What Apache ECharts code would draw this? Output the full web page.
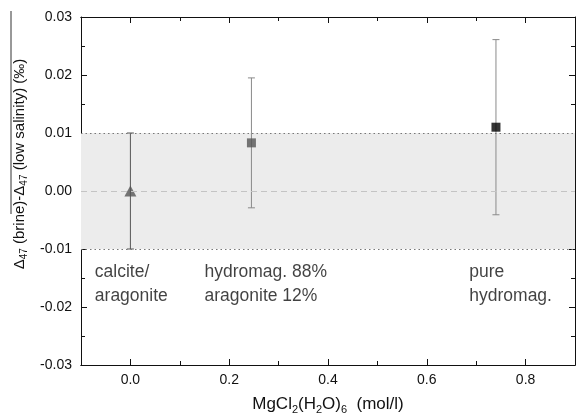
<!DOCTYPE html>
<html><head><meta charset="utf-8">
<script src="https://cdn.jsdelivr.net/npm/echarts@6/dist/echarts.min.js"></script>
<style>html,body{margin:0;padding:0;background:#fff}#c{width:576px;height:415px}</style>
</head><body><div id="c"></div>
<script>
// Data
var xValues = [0.0, 0.245, 0.74];
var yValues = [0.0, 0.0083, 0.011];
var yErrors = [0.010, 0.0112, 0.0151];
var markerSymbols = ['triangle', 'rect', 'rect'];
var markerColors = ['#555555', '#555555', '#000000'];
var errColors = ['#555555', '#8a8a8a', '#8a8a8a'];
var xMajorTicks = [0.0, 0.2, 0.4, 0.6, 0.8];
var xMinorTicks = [-0.1, 0.1, 0.3, 0.5, 0.7, 0.9];
var bandRange = [-0.01, 0.01];
var annotations = [
  {x: -0.072, y: -0.0161, text: 'calcite/\naragonite'},
  {x: 0.150, y: -0.0161, text: 'hydromag. 88%\naragonite 12%'},
  {x: 0.686, y: -0.0161, text: 'pure\nhydromag.'}
];

var FONT = '"Liberation Sans", Arial, sans-serif';
var chart = echarts.init(document.getElementById('c'), null, {renderer: 'canvas'});

var axisLineStyle = {color: '#111', width: 1};
function xAxisDef(pos, ticks, len, showLabel) {
  return {
    type: 'value', position: pos, min: -0.1, max: 0.9,
    axisLine: {show: true, onZero: false, lineStyle: axisLineStyle},
    axisTick: {show: true, inside: true, length: len, customValues: ticks, lineStyle: axisLineStyle},
    axisLabel: {show: showLabel, customValues: ticks, color: '#111', fontSize: 14, fontFamily: FONT, margin: 8,
      formatter: function (v) { return v.toFixed(1); }},
    splitLine: {show: false}
  };
}
var xAxes = [
  xAxisDef('bottom', xMajorTicks, 6, true),
  xAxisDef('bottom', xMinorTicks, 4, false),
  xAxisDef('top', xMajorTicks, 6, false),
  xAxisDef('top', xMinorTicks, 4, false)
];
xAxes[0].name = 'MgCl{s|2}(H{s|2}O){s|6}  (mol/l)';
xAxes[0].nameLocation = 'middle';
xAxes[0].nameGap = 29;
xAxes[0].nameTextStyle = {color: '#111', fontSize: 17, fontFamily: FONT,
  rich: {s: {fontSize: 11, fontFamily: FONT, color: '#111', verticalAlign: 'bottom', padding: [10, 0, 0, 0]}}};

function yAxisDef(pos, showLabel) {
  return {
    type: 'value', position: pos, min: -0.03, max: 0.03, interval: 0.01,
    axisLine: {show: true, onZero: false, lineStyle: axisLineStyle},
    axisTick: {show: true, inside: true, length: 6, lineStyle: axisLineStyle},
    minorTick: {show: true, splitNumber: 2, length: 4, lineStyle: axisLineStyle},
    axisLabel: {show: showLabel, color: '#111', fontSize: 14, fontFamily: FONT, margin: 9,
      formatter: function (v) { return v.toFixed(2); }},
    splitLine: {show: false}
  };
}
var yAxes = [yAxisDef('left', true), yAxisDef('right', false)];
yAxes[0].name = 'Δ{s|47} (brine)-Δ{s|47} (low salinity) (‰)';
yAxes[0].nameLocation = 'middle';
yAxes[0].nameGap = 52;
yAxes[0].nameTextStyle = {color: '#111', fontSize: 15, fontFamily: FONT, padding: [0, 0, 0, 54],
  rich: {s: {fontSize: 10, fontFamily: FONT, color: '#111', verticalAlign: 'bottom', padding: [8, 0, 0, 0]}}};

var errData = xValues.map(function (x, i) { return [x, yValues[i] - yErrors[i], yValues[i] + yErrors[i], i]; });
var ptData = xValues.map(function (x, i) {
  return {value: [x, yValues[i]], symbol: markerSymbols[i], itemStyle: {color: markerColors[i]},
    symbolSize: markerSymbols[i] === 'triangle' ? [12, 11] : 9};
});

chart.setOption({
  animation: false,
  backgroundColor: '#fff',
  grid: {left: 81, right: 1, top: 17, bottom: 50, containLabel: false, outerBoundsMode: 'none'},
  xAxis: xAxes,
  yAxis: yAxes,
  series: [
    {
      type: 'line', data: [], xAxisIndex: 0, yAxisIndex: 0, silent: true,
      markArea: {silent: true, itemStyle: {color: '#ececec'}, data: [[{yAxis: bandRange[0]}, {yAxis: bandRange[1]}]]},
      markLine: {silent: true, symbol: 'none', label: {show: false},
        data: [
          {yAxis: bandRange[0], lineStyle: {type: [1.5, 3], color: '#777', width: 1.2}},
          {yAxis: bandRange[1], lineStyle: {type: [1.5, 3], color: '#777', width: 1.2}},
          {yAxis: 0, lineStyle: {type: [6, 4], color: '#c4c4c4', width: 1.2}}
        ]}
    },
    {
      type: 'custom', xAxisIndex: 0, yAxisIndex: 0, data: errData, z: 3,
      renderItem: function (params, api) {
        var x = api.value(0), lo = api.value(1), hi = api.value(2), idx = api.value(3);
        var pLo = api.coord([x, lo]), pHi = api.coord([x, hi]);
        var c = errColors[idx], w = 3.5;
        var st = {stroke: c, lineWidth: 1};
        return {type: 'group', children: [
          {type: 'line', shape: {x1: pLo[0], y1: pLo[1], x2: pHi[0], y2: pHi[1]}, style: st},
          {type: 'line', shape: {x1: pLo[0] - w, y1: pLo[1], x2: pLo[0] + w, y2: pLo[1]}, style: st},
          {type: 'line', shape: {x1: pHi[0] - w, y1: pHi[1], x2: pHi[0] + w, y2: pHi[1]}, style: st}
        ]};
      }
    },
    {
      type: 'scatter', xAxisIndex: 0, yAxisIndex: 0, data: ptData, z: 4
    },
    {
      type: 'scatter', xAxisIndex: 0, yAxisIndex: 0, symbolSize: 0, silent: true,
      data: annotations.map(function (a) { return {value: [a.x, a.y], name: a.text}; }),
      label: {show: true, position: 'inside', align: 'left', verticalAlign: 'middle',
        formatter: function (p) { return p.name; },
        color: '#111', fontSize: 17.5, lineHeight: 24, fontFamily: FONT}
    }
  ],
  graphic: [
    {type: 'line', shape: {x1: 11, y1: 11, x2: 11, y2: 214}, style: {stroke: '#333', lineWidth: 1}}
  ]
});
</script></body></html>
